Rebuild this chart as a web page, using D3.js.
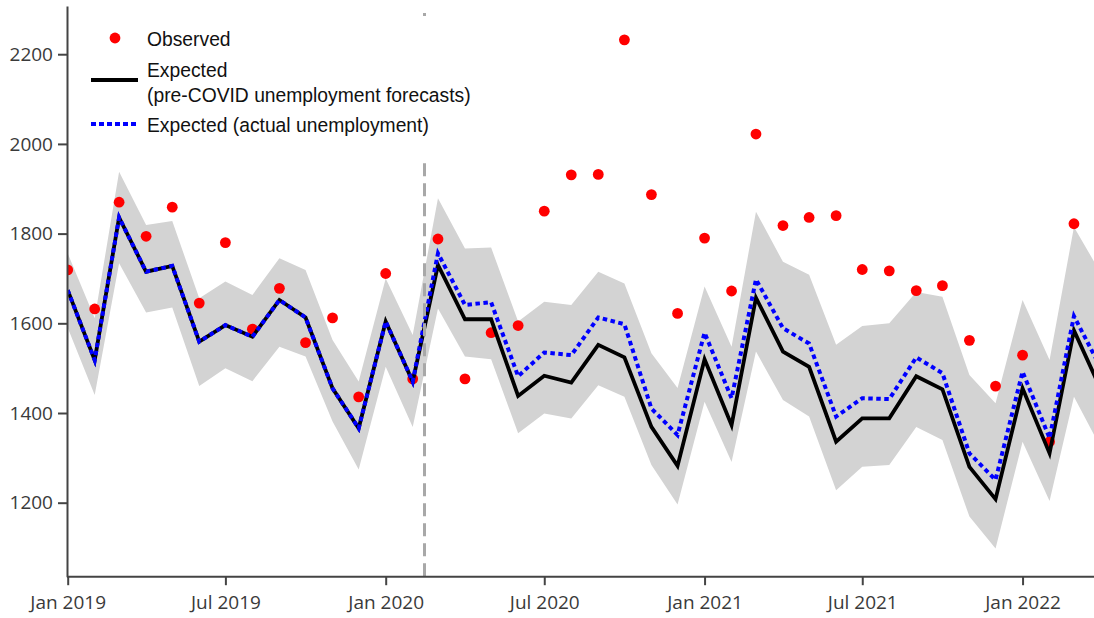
<!DOCTYPE html>
<html>
<head>
<meta charset="utf-8">
<script src="https://cdn.jsdelivr.net/npm/d3@7"></script>
<style>
  body { margin: 0; background: #fff; }
  svg { display: block; }
  .axis .tick text { font-family: "Open Sans", sans-serif; font-size: 19px; fill: #3a3a3a; }
  .axis path, .axis line { stroke: #444; stroke-width: 2; }
  .legend text { font-family: "Liberation Sans", Arial, sans-serif; font-size: 19.3px; fill: #111; }
</style>
</head>
<body>
<div id="chart"></div>
<script>
// monthly series, Jan 2019 .. Apr 2022
const startMonth = new Date(2019, 0, 1);
const months = d3.timeMonth.range(startMonth, new Date(2022, 4, 1));

// observed (Jan 2019 .. Mar 2022)
const observed = [
  1719, 1632, 1870, 1794, 1859, 1645, 1780, 1587, 1678, 1557, 1612, 1436,
  1711, 1476, 1788, 1476, 1579, 1595, 1850, 1931, 1932, 2232, 1887, 1622,
  1790, 1672, 2022, 1818, 1836, 1840, 1720, 1717, 1673, 1684, 1562, 1460,
  1529, 1336, 1822
];

// expected, pre-COVID unemployment forecasts
const expectedPre = [
  1674, 1518, 1836, 1715, 1728, 1559, 1596, 1570, 1652, 1613, 1455, 1366,
  1604, 1470, 1730, 1609, 1609, 1438, 1483, 1468, 1552, 1524, 1369, 1282,
  1520, 1373, 1657, 1537, 1503, 1336, 1388, 1388, 1482, 1453, 1280, 1208,
  1455, 1310, 1584, 1452
];

// expected, actual unemployment
const expectedActual = [
  1674, 1518, 1836, 1715, 1728, 1559, 1596, 1570, 1652, 1613, 1455, 1366,
  1604, 1470, 1756, 1641, 1647, 1482, 1535, 1529, 1613, 1598, 1410, 1351,
  1579, 1433, 1698, 1589, 1555, 1392, 1433, 1431, 1524, 1489, 1310, 1251,
  1492, 1344, 1616, 1500
];

// prediction band
const bandUpper = [
  1756, 1611, 1938, 1819, 1828, 1656, 1693, 1663, 1745, 1719, 1563, 1470,
  1700, 1574, 1879, 1767, 1769, 1604, 1648, 1641, 1715, 1689, 1533, 1456,
  1682, 1548, 1849, 1737, 1708, 1552, 1594, 1600, 1670, 1659, 1485, 1422,
  1652, 1518, 1815, 1711
];
const bandLower = [
  1590, 1440, 1734, 1624, 1635, 1460, 1500, 1471, 1548, 1526, 1381, 1274,
  1503, 1369, 1633, 1526, 1520, 1355, 1399, 1388, 1462, 1436, 1284, 1196,
  1425, 1291, 1537, 1429, 1392, 1228, 1280, 1284, 1369, 1340, 1169, 1098,
  1336, 1204, 1436, 1322
];

const yTicks = [1200, 1400, 1600, 1800, 2000, 2200];
const xTicks = [
  new Date(2019, 0, 1), new Date(2019, 6, 1), new Date(2020, 0, 1), new Date(2020, 6, 1),
  new Date(2021, 0, 1), new Date(2021, 6, 1), new Date(2022, 0, 1)
];
const covidDate = new Date(2020, 1, 14);

const legendItems = [
  { kind: "dot", lines: ["Observed"] },
  { kind: "solid", lines: ["Expected", "(pre-COVID unemployment forecasts)"] },
  { kind: "dotted", lines: ["Expected (actual unemployment)"] }
];

const width = 1094, height = 618;
const left = 67, plotTop = 6, plotBottom = 576.2;

const svg = d3.select("#chart").append("svg")
  .attr("width", width)
  .attr("height", height);

const x = d3.scaleTime()
  .domain([startMonth, new Date(2022, 2, 24)])
  .range([left + 0.7, width]);

const y = d3.scaleLinear()
  .domain([1035, 2307.5])
  .range([plotBottom + 0.5, plotTop]);

svg.append("clipPath").attr("id", "plotclip")
  .append("rect")
  .attr("x", left + 0.7).attr("y", plotTop)
  .attr("width", width - left).attr("height", plotBottom - plotTop);

const plot = svg.append("g").attr("clip-path", "url(#plotclip)");

const rows = months.map((m, i) => ({
  date: m,
  obs: observed[i],
  pre: expectedPre[i],
  act: expectedActual[i],
  hi: bandUpper[i],
  lo: bandLower[i]
}));

// band
plot.append("path")
  .datum(rows)
  .attr("fill", "#d3d3d3")
  .attr("d", d3.area()
    .x(d => x(d.date))
    .y0(d => y(d.lo))
    .y1(d => y(d.hi)));

// observed points
plot.selectAll("circle.obs")
  .data(rows.filter(d => d.obs != null))
  .join("circle")
  .attr("class", "obs")
  .attr("cx", d => x(d.date))
  .attr("cy", d => y(d.obs))
  .attr("r", 5.4)
  .attr("fill", "#ff0000");

// expected lines
plot.append("path")
  .datum(rows)
  .attr("fill", "none")
  .attr("stroke", "#000")
  .attr("stroke-width", 3.8)
  .attr("d", d3.line().x(d => x(d.date)).y(d => y(d.pre)));

plot.append("path")
  .datum(rows)
  .attr("fill", "none")
  .attr("stroke", "#0000ff")
  .attr("stroke-width", 4)
  .attr("stroke-dasharray", "4.5,3.5")
  .attr("d", d3.line().x(d => x(d.date)).y(d => y(d.act)));

// covid marker
svg.append("line")
  .attr("x1", Math.round(x(covidDate)) + 0.5).attr("x2", Math.round(x(covidDate)) + 0.5)
  .attr("y1", plotBottom).attr("y2", 13)
  .attr("stroke", "#a8a8a8")
  .attr("stroke-width", 3)
  .attr("stroke-dasharray", "13,7");

// axes
svg.append("g")
  .attr("class", "axis axis-x")
  .attr("transform", `translate(0,${plotBottom})`)
  .call(d3.axisBottom(x).tickValues(xTicks).tickFormat(d3.timeFormat("%b %Y"))
    .tickSize(9).tickSizeOuter(0).tickPadding(10));

svg.append("g")
  .attr("class", "axis axis-y")
  .attr("transform", `translate(${left},0)`)
  .call(d3.axisLeft(y).tickValues(yTicks).tickFormat(d3.format("d"))
    .tickSize(9).tickSizeOuter(0).tickPadding(5));

svg.select(".axis-x .domain").attr("d", `M${left},0.5H${width}`);

// legend
const legend = svg.append("g").attr("class", "legend");
legend.append("rect")
  .attr("x", 78).attr("y", 16).attr("width", 402).attr("height", 141)
  .attr("fill", "#fff");

const rowY = [39, 70, 125];
legendItems.forEach((it, i) => {
  const g = legend.append("g").attr("transform", `translate(0,${rowY[i]})`);
  if (it.kind === "dot") {
    g.append("circle").attr("cx", 115).attr("cy", -1).attr("r", 5.4).attr("fill", "#ff0000");
  } else if (it.kind === "solid") {
    g.append("line").attr("x1", 91).attr("x2", 138).attr("y1", 10).attr("y2", 10)
      .attr("stroke", "#000").attr("stroke-width", 4);
  } else {
    g.append("line").attr("x1", 91).attr("x2", 137).attr("y1", -1).attr("y2", -1)
      .attr("stroke", "#0000ff").attr("stroke-width", 4).attr("stroke-dasharray", "5,3");
  }
  it.lines.forEach((t, j) => {
    g.append("text")
      .attr("x", 147)
      .attr("y", j * 25)
      .attr("dy", "0.35em")
      .text(t);
  });
});
</script>
</body>
</html>
